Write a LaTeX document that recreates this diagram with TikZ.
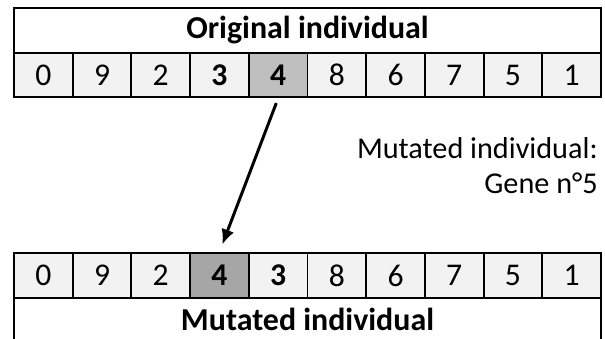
\documentclass[tikz,border=0pt]{standalone}
\usepackage{fontspec}
\setmainfont{Carlito}
\usepackage{tikz}
\usetikzlibrary{arrows.meta,positioning}
\usepackage{xcolor}
\definecolor{genefill}{HTML}{F2F2F2}
\definecolor{pickfill}{HTML}{BFBFBF}
\definecolor{swapfill}{HTML}{A6A6A6}

\begin{document}
\begin{tikzpicture}[>={Latex[length=3.8mm,width=3.3mm]},
  gene/.style={draw=black,line width=1.4pt,fill=genefill,minimum width=14.675mm,minimum height=11.1mm,inner sep=0pt,font=\fontsize{22.5}{26}\selectfont},
  title/.style={draw=black,line width=1.4pt,fill=white,minimum width=146.75mm,minimum height=11.25mm,inner sep=0pt,font=\fontsize{22.7}{26}\selectfont\bfseries},
  arr/.style={->,line width=2.1pt,shorten <=1.3mm,shorten >=2mm}]
\useasboundingbox (0,0) rectangle (15.125,8.45);
% original individual
\node[title] (orig) at (7.6875,7.6875) {Original individual};
\foreach \v/\f/\w [count=\i] in {0/genefill/,9/genefill/,2/genefill/,3/genefill/\bfseries,4/pickfill/\bfseries,8/genefill/,6/genefill/,7/genefill/,5/genefill/,1/genefill/}
  \node[gene,fill=\f] (t\i) at ({0.35+(\i-0.5)*1.4675},6.575) {\w\v};
% mutated individual
\foreach \v/\f/\w [count=\i] in {0/genefill/,9/genefill/,2/genefill/,4/swapfill/\bfseries,3/genefill/\bfseries,8/genefill/,6/genefill/,7/genefill/,5/genefill/,1/genefill/}
  \node[gene,fill=\f,minimum height=11.25mm] (b\i) at ({0.35+(\i-0.5)*1.4675},1.5625) {\w\v};
\node[title,minimum height=14mm] (mut) at (7.6875,0.3) {};
\node[font=\fontsize{22.7}{26}\selectfont\bfseries] (mutlabel) at (7.6875,0.47) {Mutated individual};
\node[font=\fontsize{21.5}{25}\selectfont,align=right,anchor=east,inner sep=0pt] (note) at (14.95,4.31) {Mutated individual:\\Gene n°5};
\draw[arr] (t5.south) -- (b4.north);
\end{tikzpicture}
\end{document}
